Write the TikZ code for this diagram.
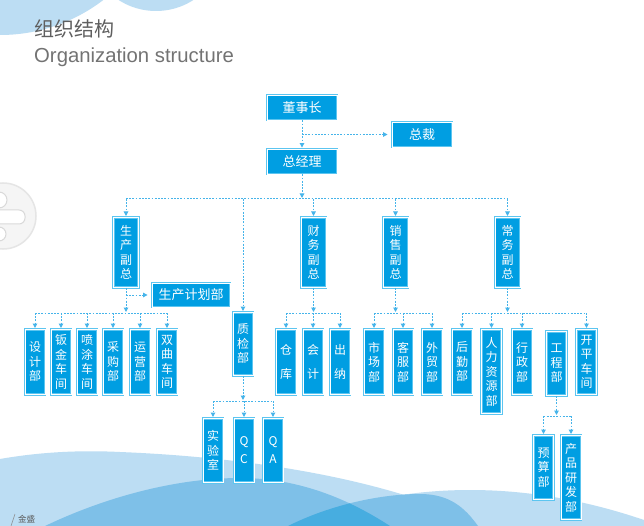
\documentclass[tikz,border=0pt]{standalone}
\usepackage{fontspec}
\setmainfont{Liberation Sans}
\newfontfamily\cjk{Noto Sans CJK SC}
\usetikzlibrary{arrows.meta}

\definecolor{boxblue}{HTML}{009EE2}
\definecolor{rimblue}{HTML}{5CC5F0}
\definecolor{linkblue}{HTML}{45B4EA}
\definecolor{wavelight}{HTML}{BCDDF3}
\definecolor{wavemid}{HTML}{7EC0E8}
\definecolor{wavedark}{HTML}{47ADE0}
\definecolor{titlegrey}{HTML}{5F5F5F}

\tikzset{
  unit/.style={fill=boxblue, draw=rimblue, double=white, double distance=0.7pt,
    line width=0.9pt, text=white, inner sep=0pt, align=center,
    font=\cjk\fontsize{12}{14.5}\selectfont},
  hunit/.style={unit, minimum width=70, minimum height=25,
    font=\cjk\fontsize{13}{15}\selectfont},
  vunit/.style={unit, anchor=north, minimum width=20, minimum height=65},
  vpunit/.style={vunit, minimum width=25, minimum height=70},
  link/.style={draw=linkblue, line width=1pt, dash pattern=on 1.8pt off 1.4pt},
  tip/.style={-{Triangle[length=4.5pt,width=4.5pt]}, shorten >=1pt}
}

\begin{document}
\begin{tikzpicture}[x=1pt,y=-1pt]
            \useasboundingbox (0,0) rectangle (644,526);
            \fill[white] (0,0) rectangle (644,526);
            % background
            \begin{scope}
                \clip (0,0) rectangle (644,526);
                \fill[wavelight] (0,-135) circle (170);
                \fill[wavelight] (156,-58) circle (69);
                \fill[wavelight] (0,459) .. controls (40,452) and (80,450) .. (120,452)
                    .. controls (220,456) and (330,470) .. (420,500)
                    .. controls (450,510) and (470,518) .. (490,526) -- (0,526) -- cycle;
                \fill[wavelight] (300,526) .. controls (340,505) and (400,490) .. (470,490)
                    .. controls (540,490) and (600,505) .. (644,520) -- (644,526) -- cycle;
                \fill[wavemid] (45,526) .. controls (110,495) and (180,478) .. (240,478)
                    .. controls (300,478) and (350,500) .. (390,526) -- cycle;
                \fill[wavemid] (288,526) .. controls (330,505) and (380,494) .. (420,494)
                    .. controls (450,494) and (465,508) .. (478,526) -- cycle;
                \begin{scope}
                    \clip (288,526) .. controls (330,505) and (380,494) .. (420,494)
                        .. controls (450,494) and (465,508) .. (478,526) -- cycle;
                    \fill[wavedark] (45,526) .. controls (110,495) and (180,478) .. (240,478)
                        .. controls (300,478) and (350,500) .. (390,526) -- cycle;
                \end{scope}
                % side button
                \draw[draw=black!10, line width=1.5pt, fill=black!4] (3,216) circle (33);
                \draw[draw=black!15, line width=1pt, fill=white] (-1,200) circle (8);
                \draw[draw=black!15, line width=1pt, fill=white] (-1,234) circle (7);
                \draw[draw=black!15, line width=1pt, fill=white, rounded corners=6pt] (-10,210) rectangle (25,224);
            \end{scope}
            % titles
            \node[anchor=base west, inner sep=0pt, text=titlegrey, font=\cjk\fontsize{20}{22}\selectfont] (title) at (34,37) {组织结构};
            \node[anchor=base west, inner sep=0pt, text=black!55, font=\fontsize{20.3}{22}\selectfont] (subtitle) at (34,63) {Organization structure};
            \draw[black!45, line width=0.5pt] (15,514) -- (11,526);
            \node[anchor=base west, inner sep=0pt, text=black!65, font=\cjk\fontsize{8.5}{9}\selectfont] (mark) at (18,522.5) {金盛};

            % top
            \node[hunit] (chair) at (302,107.5) {董事长};
            \node[hunit, minimum width=60] (pres) at (422,134.5) {总裁};
            \node[hunit] (gm) at (302,161.5) {总经理};
            \node[hunit, minimum width=78, minimum height=24] (plan) at (191,295) {生产计划部};

            % vice presidents
            \node[vpunit] (vpprod) at (126,217) {生\\产\\副\\总};
            \node[vpunit] (vpfin) at (313.5,217) {财\\务\\副\\总};
            \node[vpunit] (vpsale) at (395.5,217) {销\\售\\副\\总};
            \node[vpunit] (vpgen) at (507.5,217) {常\\务\\副\\总};
            \node[vunit, minimum height=63] (qual) at (243,312) {质\\检\\部};

            % departments
            \node[vunit] (p1) at (35,329) {设\\计\\部};
            \node[vunit] (p2) at (61,329) {钣\\金\\车\\间};
            \node[vunit] (p3) at (87,329) {喷\\涂\\车\\间};
            \node[vunit] (p4) at (113,329) {采\\购\\部};
            \node[vunit] (p5) at (140,329) {运\\营\\部};
            \node[vunit] (p6) at (167,329) {双\\曲\\车\\间};
            \node[vunit] (f1) at (286,329) {仓\\[10pt]库};
            \node[vunit] (f2) at (313,329) {会\\[10pt]计};
            \node[vunit] (f3) at (340,329) {出\\[10pt]纳};
            \node[vunit] (s1) at (374,329) {市\\场\\部};
            \node[vunit] (s2) at (403,329) {客\\服\\部};
            \node[vunit] (s3) at (432,329) {外\\贸\\部};
            \node[vunit] (g1) at (462,329) {后\\勤\\部};
            \node[vunit, minimum height=84] (g2) at (491.5,329) {人\\力\\资\\源\\部};
            \node[vunit] (g3) at (522,329) {行\\政\\部};
            \node[vunit, minimum height=64] (g4) at (556.5,331) {工\\程\\部};
            \node[vunit] (g5) at (586.5,329) {开\\平\\车\\间};
            \node[vunit, minimum height=64] (q1) at (213,418) {实\\验\\室};
            \node[vunit, minimum height=64] (q2) at (244,418) {Q\\[3.5pt]C};
            \node[vunit, minimum height=64] (q3) at (273,418) {Q\\[3.5pt]A};
            \node[vunit, minimum height=64] (e1) at (543.5,435) {预\\算\\部};
            \node[vunit, minimum height=84] (e2) at (571,435) {产\\品\\研\\发\\部};

            % buses
            \coordinate (mainbus) at (0,199);
            \coordinate (depbus) at (0,313);
            \coordinate (qualbus) at (0,401);
            \coordinate (engbus) at (0,416);

            \draw[link,tip] (chair) -- (gm);
            \draw[link,tip,shorten >=4pt] (chair.south |- pres.west) -- (pres.west);
            \draw[link,tip] (gm) -- (gm.south |- mainbus);
            \draw[link] (vpprod.north |- mainbus) -- (vpgen.north |- mainbus);
            \foreach \n in {vpprod,qual,vpfin,vpsale,vpgen}
                \draw[link,tip] (\n.north |- mainbus) -- (\n.north);

            \draw[link,tip] (vpprod) -- (vpprod.south |- depbus);
            \draw[link,tip,shorten >=4pt] (vpprod.south |- plan.west) -- (plan.west);
            \draw[link] (p1.north |- depbus) -- (p6.north |- depbus);
            \draw[link,tip] (vpfin) -- (vpfin.south |- depbus);
            \draw[link] (f1.north |- depbus) -- (f3.north |- depbus);
            \draw[link,tip] (vpsale) -- (vpsale.south |- depbus);
            \draw[link] (s1.north |- depbus) -- (s3.north |- depbus);
            \draw[link,tip] (vpgen) -- (vpgen.south |- depbus);
            \draw[link] (g1.north |- depbus) -- (g5.north |- depbus);
            \foreach \n in {p1,p2,p3,p4,p5,p6,f1,f2,f3,s1,s2,s3,g1,g2,g3,g5}
                \draw[link,tip] (\n.north |- depbus) -- (\n.north);

            \draw[link,tip] (qual) -- (qual.south |- qualbus);
            \draw[link] (q1.north |- qualbus) -- (q3.north |- qualbus);
            \draw[link,tip] (g4) -- (g4.south |- engbus);
            \draw[link] (e1.north |- engbus) -- (e2.north |- engbus);
            \foreach \n in {q1,q2,q3}
                \draw[link,tip] (\n.north |- qualbus) -- (\n.north);
            \foreach \n in {e1,e2}
                \draw[link,tip] (\n.north |- engbus) -- (\n.north);
        \end{tikzpicture}
\end{document}
